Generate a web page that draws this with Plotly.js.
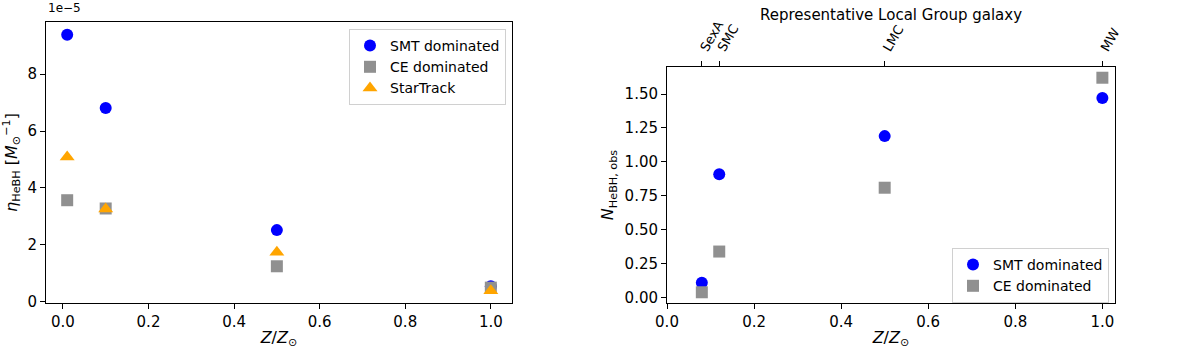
<!DOCTYPE html>
<html>
<head>
<meta charset="utf-8">
<script src="https://cdn.plot.ly/plotly-3.0.1.min.js"></script>
<style>
  body { margin: 0; background: #fff; }
  #chart { width: 1200px; height: 356px; }
</style>
</head>
<body>
<div id="chart"></div>
<script>
// Left panel: formation efficiency per unit mass
const zLeft = [0.01, 0.1, 0.5, 1.0];
const etaSMT = [9.38e-5, 6.81e-5, 2.52e-5, 0.55e-5];
const etaCE = [3.57e-5, 3.28e-5, 1.25e-5, 0.50e-5];
const etaStarTrack = [5.09e-5, 3.26e-5, 1.74e-5, 0.39e-5];

// Right panel: observable number per galaxy
const zRight = [0.08, 0.12, 0.5, 1.0];
const nSMT = [0.11, 0.91, 1.19, 1.47];
const nCE = [0.04, 0.34, 0.81, 1.62];
const galaxyNames = ['SexA', 'SMC', 'LMC', 'MW'];

const leftTicks = [0, 2e-5, 4e-5, 6e-5, 8e-5];
const leftTickText = ['0', '2', '4', '6', '8'];

const font = 'DejaVu Sans, sans-serif';
const blue = '#0000ff';
const grey = '#909090';
const orange = '#ffa500';

const W = 1200, H = 356;
const px = (a, b) => [a / W, b / W];
const py = (top, bottom) => [(H - bottom) / H, (H - top) / H];

const axisStyle = {
    showline: true,
    linecolor: '#000',
    linewidth: 1,
    mirror: true,
    ticks: 'outside',
    ticklen: 5,
    tickcolor: '#000',
    showgrid: false,
    zeroline: false,
    tickfont: { family: font, size: 15, color: '#000' }
};

const data = [
    {
        x: zLeft, y: etaSMT, name: 'SMT dominated', type: 'scatter', mode: 'markers',
        marker: { color: blue, size: 12, symbol: 'circle' },
        xaxis: 'x', yaxis: 'y', legend: 'legend'
    },
    {
        x: zLeft, y: etaCE, name: 'CE dominated', type: 'scatter', mode: 'markers',
        marker: { color: grey, size: 12, symbol: 'square' },
        xaxis: 'x', yaxis: 'y', legend: 'legend'
    },
    {
        x: zLeft, y: etaStarTrack, name: 'StarTrack', type: 'scatter', mode: 'markers',
        marker: { color: orange, size: 13, symbol: 'triangle-up' },
        xaxis: 'x', yaxis: 'y', legend: 'legend'
    },
    {
        x: zRight, y: nSMT, name: 'SMT dominated', type: 'scatter', mode: 'markers',
        marker: { color: blue, size: 12, symbol: 'circle' },
        xaxis: 'x2', yaxis: 'y2', legend: 'legend2'
    },
    {
        x: zRight, y: nCE, name: 'CE dominated', type: 'scatter', mode: 'markers',
        marker: { color: grey, size: 12, symbol: 'square' },
        xaxis: 'x2', yaxis: 'y2', legend: 'legend2'
    },
    // invisible trace to carry the top galaxy axis
    {
        x: zRight, y: nSMT, type: 'scatter', mode: 'markers',
        marker: { opacity: 0 }, hoverinfo: 'skip', showlegend: false,
        xaxis: 'x3', yaxis: 'y2'
    }
];

const legendStyle = {
    bgcolor: 'rgba(255,255,255,0.8)',
    bordercolor: '#d0d0d0',
    borderwidth: 1,
    font: { family: font, size: 14, color: '#000' },
    xanchor: 'right', yanchor: 'top',
    tracegroupgap: 0,
    itemwidth: 30
};

const layout = {
    width: W,
    height: H,
    margin: { l: 0, r: 0, t: 0, b: 0 },
    paper_bgcolor: '#fff',
    plot_bgcolor: '#fff',
    xaxis: Object.assign({}, axisStyle, {
        domain: px(46, 512),
        range: [-0.0395, 1.0495],
        tickvals: [0, 0.2, 0.4, 0.6, 0.8, 1.0],
        ticktext: ['0.0', '0.2', '0.4', '0.6', '0.8', '1.0'],
        anchor: 'y',
        title: { text: '<i>Z</i>/<i>Z</i><sub>⊙</sub>', font: { family: font, size: 16, color: '#000' }, standoff: 1 }
    }),
    yaxis: Object.assign({}, axisStyle, {
        domain: py(22, 303),
        range: [-0.04e-5, 9.83e-5],
        tickvals: leftTicks,
        ticktext: leftTickText,
        anchor: 'x',
        title: { text: '<i>η</i><sub>HeBH</sub> [<i>M</i><sub>⊙</sub><sup>−1</sup>]', font: { family: font, size: 16, color: '#000' }, standoff: 8 }
    }),
    xaxis2: Object.assign({}, axisStyle, {
        domain: px(667, 1115),
        range: [0, 1.029],
        tickvals: [0, 0.2, 0.4, 0.6, 0.8, 1.0],
        ticktext: ['0.0', '0.2', '0.4', '0.6', '0.8', '1.0'],
        anchor: 'y2',
        mirror: false,
        title: { text: '<i>Z</i>/<i>Z</i><sub>⊙</sub>', font: { family: font, size: 16, color: '#000' }, standoff: 1 }
    }),
    yaxis2: Object.assign({}, axisStyle, {
        domain: py(67, 303),
        range: [-0.039, 1.699],
        tickvals: [0, 0.25, 0.5, 0.75, 1.0, 1.25, 1.5],
        ticktext: ['0.00', '0.25', '0.50', '0.75', '1.00', '1.25', '1.50'],
        anchor: 'x2',
        title: { text: '<i>N</i><sub>HeBH, obs</sub>', font: { family: font, size: 16, color: '#000' }, standoff: 6 }
    }),
    xaxis3: Object.assign({}, axisStyle, {
        overlaying: 'x2',
        side: 'top',
        anchor: 'y2',
        range: [0, 1.029],
        tickvals: zRight,
        ticktext: galaxyNames,
        tickangle: -60,
        tickfont: { family: font, size: 13, color: '#000' }
    }),
    legend: Object.assign({}, legendStyle, { x: 506 / W, y: (H - 29) / H }),
    legend2: Object.assign({}, legendStyle, { x: 1109 / W, y: (H - 248) / H }),
    annotations: [
        {
            text: '1e−5', xref: 'paper', yref: 'paper',
            x: 46 / W, y: (H - 8) / H, xanchor: 'left', yanchor: 'middle',
            showarrow: false, font: { family: font, size: 12, color: '#000' }
        },
        {
            // title of the top galaxy axis
            text: 'Representative Local Group galaxy', xref: 'paper', yref: 'paper',
            x: 891 / W, y: (H - 15) / H, xanchor: 'center', yanchor: 'middle',
            showarrow: false, font: { family: font, size: 15, color: '#000' }
        }
    ]
};

Plotly.newPlot('chart', data, layout, { displayModeBar: false, staticPlot: true });
</script>
</body>
</html>
